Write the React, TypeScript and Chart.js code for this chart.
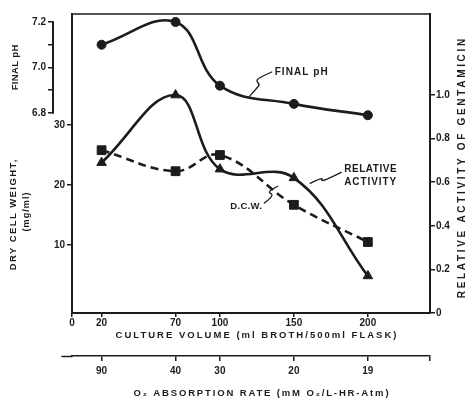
import React, { useEffect, useRef } from 'react';
import { Chart, registerables } from 'chart.js';

Chart.register(...registerables);

// ---- data ----
const cultureVolume = [20, 70, 100, 150, 200];
const finalPH = [7.1, 7.2, 6.92, 6.84, 6.79];
const dryCellWeight = [25.8, 22.3, 25.0, 16.7, 10.5];
const relativeActivity = [0.69, 1.0, 0.66, 0.62, 0.17];

// ---- tick labels ----
const volumeTicks = [0, 20, 70, 100, 150, 200];
const o2AbsorptionRates = [90, 40, 30, 20, 19];
const phTicks = [6.8, 6.9, 7.0, 7.1, 7.2];
const phTickLabels = ['6.8', '', '7.0', '', '7.2'];
const dcwTicks = [10, 20, 30];
const activityTicks = [0, 0.2, 0.4, 0.6, 0.8, 1.0];
const activityTickLabels = ['0', '0.2', '0.4', '0.6', '0.8', '1.0'];

const INK = '#1c1c1c';
const FAMILY = '"Liberation Sans", Arial, sans-serif';
const TICK_FONT = { family: FAMILY, size: 10, weight: 'bold' as const };

const setTicks = (values: number[]) => (scale: any) => {
  scale.ticks = values.map((v) => ({ value: v }));
};

function spacedText(
  ctx: CanvasRenderingContext2D,
  text: string,
  x: number,
  y: number,
  size: number,
  targetWidth: number,
  rotation = 0,
  align: CanvasTextAlign = 'center'
) {
  ctx.save();
  ctx.translate(x, y);
  ctx.rotate(rotation);
  ctx.font = `bold ${size}px ${FAMILY}`;
  ctx.fillStyle = INK;
  ctx.textAlign = align;
  ctx.textBaseline = 'middle';
  const n = Array.from(text).length;
  const w = ctx.measureText(text).width;
  const sp = targetWidth > 0 ? Math.max(0, (targetWidth - w) / n) : 0;
  (ctx as any).letterSpacing = `${sp}px`;
  ctx.fillText(text, align === 'center' ? sp / 2 : 0, 0);
  ctx.restore();
}

function polyCurve(ctx: CanvasRenderingContext2D, pts: [number, number][]) {
  ctx.beginPath();
  ctx.moveTo(pts[0][0], pts[0][1]);
  for (let i = 1; i < pts.length - 1; i++) {
    const mx = (pts[i][0] + pts[i + 1][0]) / 2;
    const my = (pts[i][1] + pts[i + 1][1]) / 2;
    ctx.quadraticCurveTo(pts[i][0], pts[i][1], mx, my);
  }
  const last = pts[pts.length - 1];
  ctx.lineTo(last[0], last[1]);
  ctx.stroke();
}

const decor = {
  id: 'decor',
  afterDraw(chart: any) {
    const { ctx, chartArea: ca, scales } = chart;
    const x = scales.x;
    const x2 = scales.x2;
    const yPH = scales.yPH;
    const yD = scales.yDCW;
    const yR = scales.yRA;
    ctx.save();
    ctx.strokeStyle = INK;
    ctx.fillStyle = INK;
    ctx.lineCap = 'round';
    ctx.lineJoin = 'round';

    // top frame line
    ctx.lineWidth = 1.5;
    ctx.beginPath();
    ctx.moveTo(ca.left, ca.top);
    ctx.lineTo(ca.right, ca.top);
    ctx.stroke();

    // short pH spine
    ctx.lineWidth = 2;
    ctx.beginPath();
    ctx.moveTo(yPH.right, yPH.getPixelForValue(7.2));
    ctx.lineTo(yPH.right, yPH.getPixelForValue(6.8));
    ctx.stroke();

    // O2 axis line extends a little to the left
    ctx.lineWidth = 1.5;
    ctx.beginPath();
    ctx.moveTo(x2.left - 10, x2.top + 0.5);
    ctx.lineTo(x2.left, x2.top + 0.5);
    ctx.stroke();

    // axis titles
    spacedText(ctx, 'FINAL pH', 15, (yPH.getPixelForValue(7.2) + yPH.getPixelForValue(6.8)) / 2, 9.5, 46, -Math.PI / 2);
    spacedText(ctx, 'DRY CELL WEIGHT,', 13, yD.getPixelForValue(15), 9.5, 112, -Math.PI / 2);
    spacedText(ctx, '(mg/ml)', 27, yD.getPixelForValue(15.5), 9, 40, -Math.PI / 2);
    spacedText(ctx, 'RELATIVE ACTIVITY OF GENTAMICIN', 462, (ca.top + ca.bottom) / 2 + 5, 10, 262, -Math.PI / 2);
    spacedText(ctx, 'CULTURE VOLUME (ml BROTH/500ml FLASK)', (ca.left + ca.right) / 2 + 5, x.bottom - 21, 9.5, 283);
    spacedText(ctx, 'O\u2082 ABSORPTION RATE (mM O\u2082/L-HR-Atm)', (ca.left + ca.right) / 2 + 10, x2.bottom - 14, 9.5, 257);

    // curve labels
    const lx = (v: number) => x.getPixelForValue(v);
    spacedText(ctx, 'FINAL pH', lx(137), yPH.getPixelForValue(6.98), 10, 54, 0, 'left');
    spacedText(ctx, 'RELATIVE', lx(184), yR.getPixelForValue(0.66), 10, 53, 0, 'left');
    spacedText(ctx, 'ACTIVITY', lx(184), yR.getPixelForValue(0.6), 10, 53, 0, 'left');
    spacedText(ctx, 'D.C.W.', lx(107), yD.getPixelForValue(16.5), 9.5, 32, 0, 'left');

    // leader squiggles
    ctx.lineWidth = 1.3;
    const pPH = (v: number, p: number): [number, number] => [lx(v), yPH.getPixelForValue(p)];
    polyCurve(ctx, [pPH(120, 6.873), pPH(125, 6.91), pPH(127, 6.925), pPH(124, 6.945), pPH(130, 6.965), pPH(135, 6.98)]);
    const pR = (v: number, a: number): [number, number] => [lx(v), yR.getPixelForValue(a)];
    polyCurve(ctx, [pR(161, 0.595), pR(170, 0.625), pR(168, 0.6), pR(182, 0.645)]);
    const pD = (v: number, d: number): [number, number] => [lx(v), yD.getPixelForValue(d)];
    polyCurve(ctx, [pD(130, 17.0), pD(137, 18.3), pD(132, 18.8), pD(139, 19.8)]);

    ctx.restore();
  },
};

export default function App() {
  const ref = useRef<HTMLCanvasElement>(null);
  useEffect(() => {
    document.body.style.margin = '0';
    const pts = (ys: number[]) => cultureVolume.map((v, i) => ({ x: v, y: ys[i] }));
    const common = {
      borderColor: INK,
      backgroundColor: INK,
      pointBackgroundColor: INK,
      pointBorderColor: INK,
      pointBorderWidth: 1,
      borderWidth: 2.6,
      tension: 0.4,
      clip: false as const,
      xAxisID: 'x',
    };
    const grid = (tl: number) => ({
      drawOnChartArea: false,
      drawTicks: true,
      tickLength: tl,
      color: INK,
      lineWidth: 1.5,
    });
    const chart = new Chart(ref.current as HTMLCanvasElement, {
      type: 'line',
      data: {
        datasets: [
          { ...common, label: 'Final pH', data: pts(finalPH), yAxisID: 'yPH', pointStyle: 'circle', pointRadius: 4.5 },
          { ...common, label: 'D.C.W.', data: pts(dryCellWeight), yAxisID: 'yDCW', pointStyle: 'rect', pointRadius: 6.2, borderDash: [8, 5] },
          { ...common, label: 'Relative activity', data: pts(relativeActivity), yAxisID: 'yRA', pointStyle: 'triangle', pointRadius: 5.5 },
        ],
      },
      options: {
        responsive: false,
        animation: false,
        devicePixelRatio: 1,
        layout: { padding: { left: 28, right: 20, top: 14, bottom: 0 } },
        plugins: { legend: { display: false }, tooltip: { enabled: false } },
        scales: {
          x: {
            type: 'linear',
            position: 'bottom',
            weight: 0,
            min: 0,
            max: 242,
            afterBuildTicks: setTicks(volumeTicks),
            afterFit: (s: any) => { s.height = 43; },
            ticks: { autoSkip: false, maxRotation: 0, padding: 0, color: INK, font: TICK_FONT, callback: (v: any) => String(v) },
            grid: grid(4),
            border: { display: true, color: INK, width: 2 },
          },
          x2: {
            type: 'linear',
            position: 'bottom',
            weight: 1,
            min: 0,
            max: 242,
            afterBuildTicks: setTicks([...cultureVolume, 242]),
            afterFit: (s: any) => { s.height = 51; },
            ticks: {
              autoSkip: false,
              maxRotation: 0,
              padding: 4,
              color: INK,
              font: TICK_FONT,
              callback: (v: any) => {
                const i = cultureVolume.indexOf(Number(v));
                return i >= 0 ? String(o2AbsorptionRates[i]) : '';
              },
            },
            grid: grid(5),
            border: { display: true, color: INK, width: 1.5 },
          },
          yPH: {
            type: 'linear',
            position: 'left',
            weight: 1,
            min: 5.921,
            max: 7.235,
            afterBuildTicks: setTicks(phTicks),
            afterFit: (s: any) => { s.width = 25; },
            ticks: {
              padding: 2,
              color: INK,
              font: TICK_FONT,
              callback: (v: any) => {
                const i = phTicks.findIndex((t) => Math.abs(t - Number(v)) < 1e-6);
                return i >= 0 ? phTickLabels[i] : '';
              },
            },
            grid: grid(5),
            border: { display: false },
          },
          yDCW: {
            type: 'linear',
            position: 'left',
            weight: 0,
            min: -1.33,
            max: 48.5,
            afterBuildTicks: setTicks(dcwTicks),
            afterFit: (s: any) => { s.width = 19; },
            ticks: { padding: 2, color: INK, font: TICK_FONT, callback: (v: any) => String(v) },
            grid: grid(5),
            border: { display: true, color: INK, width: 2 },
          },
          yRA: {
            type: 'linear',
            position: 'right',
            min: 0,
            max: 1.372,
            afterBuildTicks: setTicks(activityTicks),
            afterFit: (s: any) => { s.width = 23; },
            ticks: {
              padding: 1,
              color: INK,
              font: TICK_FONT,
              callback: (v: any) => {
                const i = activityTicks.findIndex((t) => Math.abs(t - Number(v)) < 1e-6);
                return i >= 0 ? activityTickLabels[i] : '';
              },
            },
            grid: grid(5),
            border: { display: true, color: INK, width: 2 },
          },
        },
      } as any,
      plugins: [decor],
    });
    return () => chart.destroy();
  }, []);
  return (
    <div style={{ width: 473, height: 407 }}>
      <canvas ref={ref} width={473} height={407} style={{ display: 'block' }} />
    </div>
  );
}
